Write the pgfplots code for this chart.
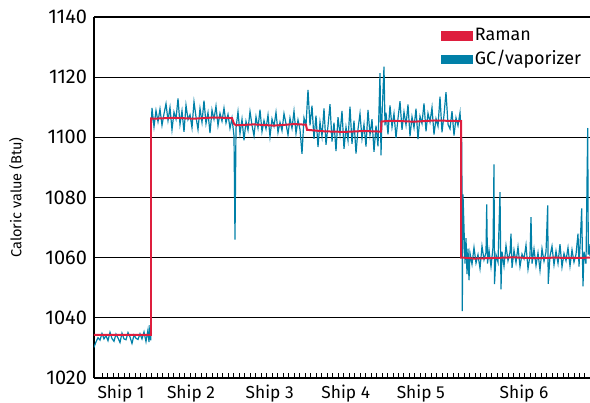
\documentclass[border=0pt]{standalone}
\usepackage{pgfplots}
\pgfplotsset{compat=1.18}
\usepackage{fontspec}
\setmainfont{Fira Sans}
\definecolor{ramanred}{RGB}{222,30,62}
\definecolor{gcblue}{RGB}{0,128,168}
\begin{document}
\begin{tikzpicture}
\begin{axis}[
 at={(0,0)}, anchor=south west,
 scale only axis, width=248bp, height=180.5bp,
 xmin=0, xmax=496, ymin=1020, ymax=1140,
 axis x line*=bottom, axis y line*=left,
 axis line style={line width=0.6pt, black},
 ytick={1020,1040,...,1140},
 ymajorgrids, grid style={black, line width=0.6pt},
 xtick={27,97,175.7,251.8,326.8,430},
 xticklabels={Ship 1,Ship 2,Ship 3,Ship 4,Ship 5,Ship 6},
 minor xtick={8.3,13.785,...,491.6},
 major tick length=0pt,
 minor tick length=2.3bp,
 tick align=inside,
 tick style={black, line width=0.5pt},
 xticklabel style={font={\fontsize{8.7}{10}\selectfont}},
 yticklabel style={font={\fontsize{10}{12}\selectfont}},
 /pgf/number format/assume math mode=true,
 /pgf/number format/1000 sep={},
 ylabel={Caloric value (Btu)},
 ylabel style={font={\fontsize{7.3}{9}\selectfont}, yshift=4bp},
 legend style={at={(rel axis cs:0.699,0.976)}, anchor=north west, draw=none, fill=none,
   inner sep=0pt, row sep=1.5bp, font={\fontsize{9}{10}\selectfont},
   nodes={inner sep=1bp}},
 legend cell align=left,
]
\addlegendimage{legend image code/.code={\fill[ramanred] (0bp,-2.1bp) rectangle (15.5bp,2.1bp);}}
\addlegendentry{Raman}
\addlegendimage{legend image code/.code={\fill[gcblue] (0bp,-2.1bp) rectangle (15.5bp,2.1bp);}}
\addlegendentry{GC/vaporizer}
% GC/vaporizer
\addplot[gcblue, line width=0.6pt, sharp plot, forget plot] coordinates {
(0,1030.2)(2,1032.0)(4,1033.4)(6,1032.6)(8,1034.8)(10,1033.0)(12,1034.1)(14,1032.4)(16,1035.2)(18,1033.1)
(20,1032.2)(22,1034.6)(24,1033.3)(26,1031.8)(28,1034.9)(30,1033.0)(32,1032.7)(34,1035.1)(36,1033.6)(38,1031.5)
(40,1034.3)(42,1033.2)(44,1032.8)(46,1034.7)(48,1033.0)(50,1035.3)(52,1032.1)(54,1036.0)(55,1031.9)(56,1037.6)
(56.8,1032.5)(57.3,1104.0)(58,1109.8)
(60,1103.5)(62,1108.9)(64,1105.2)(66,1109.4)(68,1104.0)(70,1107.8)(72,1111.2)(74,1105.6)(76,1109.9)(78,1102.5)
(80,1108.4)(82,1106.1)(84,1112.9)(86,1104.3)(88,1108.8)(90,1101.8)(92,1110.7)(94,1105.9)(96,1107.5)(98,1103.2)
(100,1111.8)(102,1106.8)(104,1102.6)(106,1109.6)(108,1105.0)(110,1112.2)(112,1104.6)(114,1108.2)(116,1101.4)(118,1109.1)
(120,1106.0)(122,1110.4)(124,1103.9)(126,1108.0)(128,1105.4)(130,1109.7)(132,1104.8)(134,1107.6)(136,1103.0)(138,1106.4)
(140,1100.5)(141,1066.0)(142,1103.0)
(144,1108.5)(146,1101.2)(148,1106.0)(150,1099.0)(152,1105.3)(154,1102.4)(156,1108.6)(158,1104.0)(160,1100.5)(162,1106.8)
(164,1103.1)(166,1109.2)(168,1101.9)(170,1105.6)(172,1102.8)(174,1107.4)(176,1100.2)(178,1106.1)(180,1103.7)(182,1108.3)
(184,1101.6)(186,1105.0)(188,1102.2)(190,1107.9)(192,1104.5)(194,1100.8)(196,1106.4)(198,1103.0)(200,1108.7)(202,1101.3)
(204,1105.8)(206,1102.6)(208,1094.5)(210,1106.5)(212,1104.0)
(214,1115.8)(216,1104.0)(218,1110.5)(220,1099.5)(222,1107.2)(224,1096.8)(226,1105.1)(228,1100.3)(230,1109.6)(232,1097.5)
(234,1103.8)(236,1111.0)(238,1098.6)(240,1104.9)(242,1095.4)(244,1106.7)(246,1101.0)(248,1108.8)(250,1096.2)(252,1103.4)
(254,1099.0)(256,1110.2)(258,1097.8)(260,1105.5)(262,1094.6)(264,1102.7)(266,1107.9)(268,1099.6)(270,1104.3)(272,1096.9)
(274,1109.1)(276,1100.8)(278,1106.0)(280,1095.2)(282,1103.9)(284,1097.0)(286,1121.3)(287,1094.0)(288,1107.0)(290,1123.5)
(291,1104.0)
(292,1108.2)(294,1101.0)(296,1110.6)(298,1103.4)(300,1107.9)(302,1099.8)(304,1106.3)(306,1112.0)(308,1102.5)(310,1108.4)
(312,1104.1)(314,1110.9)(316,1100.3)(318,1106.8)(320,1103.2)(322,1109.5)(324,1099.4)(326,1107.0)(328,1104.6)(330,1111.3)
(332,1102.0)(334,1108.0)(336,1105.1)(338,1109.9)(340,1100.9)(342,1106.2)(344,1103.7)(346,1113.5)(348,1101.7)(350,1107.4)
(352,1115.0)(354,1104.3)(356,1102.8)(358,1108.7)(360,1100.6)(362,1106.5)(364,1103.9)(366,1108.2)
(367,1103.0)(367.7,1098.0)(368,1081.6)(368.3,1042.2)(369,1081.0)(370,1070.0)(371,1058.0)(372,1066.5)(373,1054.5)
(374,1063.0)(375,1052.5)(376,1061.5)(378,1057.8)(380,1063.4)(382,1058.2)(384,1061.0)(386,1056.4)(388,1063.8)(390,1059.3)
(392,1061.7)(392.7,1077.7)(393.5,1058.0)(395,1062.5)(397,1057.0)(399,1063.5)(400,1091.0)(400.5,1051.2)(402,1061.0)(404,1058.5)
(406,1081.8)(407,1049.5)(408,1062.0)(410,1057.2)(412,1064.0)(414,1059.0)(416,1061.8)(417,1068.0)(418,1056.6)(420,1062.5)
(422,1058.4)(424,1063.6)(426,1057.0)(428,1061.2)(430,1059.6)(432,1064.2)(434,1056.2)(436,1060.8)(437,1073.5)(438,1058.0)
(440,1062.9)(442,1057.4)(444,1061.6)(446,1055.8)(448,1063.0)(450,1058.8)(452,1061.9)(453.7,1077.4)(454.2,1051.3)(456,1060.5)
(458,1063.8)(460,1057.6)(462,1062.2)(464,1058.1)(466,1064.5)(468,1056.9)(470,1061.4)(472,1059.0)(474,1063.3)(476,1057.2)
(478,1062.6)(480,1058.5)(482,1061.1)(484,1068.0)(485,1057.0)(486,1063.6)(487.7,1076.4)(488.5,1059.2)(489,1050.5)(490,1062.0)
(492,1058.0)(493.7,1103.1)(494.3,1061.0)(495,1064.5)(496,1060.5)
};
% Raman
\addplot[ramanred, line width=1pt, sharp plot, forget plot] coordinates {
(0,1034.3)(57,1034.3)(57,1106.3)(60,1106.2)(80,1106.5)(100,1106.2)(120,1106.6)(138,1106.4)(140,1104.5)(142,1104.0)
(160,1104.3)(180,1103.9)(200,1104.4)(212,1104.2)(213,1102.5)(230,1102.0)(250,1101.8)(270,1102.1)(287,1101.9)(287.5,1105.3)
(300,1105.5)(320,1105.2)(340,1105.6)(366,1105.4)(367,1105.4)(367,1060.0)(370,1060.0)(380,1059.7)(400,1059.9)(420,1060.1)
(440,1059.8)(460,1060.0)(480,1059.9)(496,1060.0)
};
\end{axis}
\pgfresetboundingbox
\path (-47bp,-12.5bp) rectangle (248bp,189bp);
\end{tikzpicture}
\end{document}
